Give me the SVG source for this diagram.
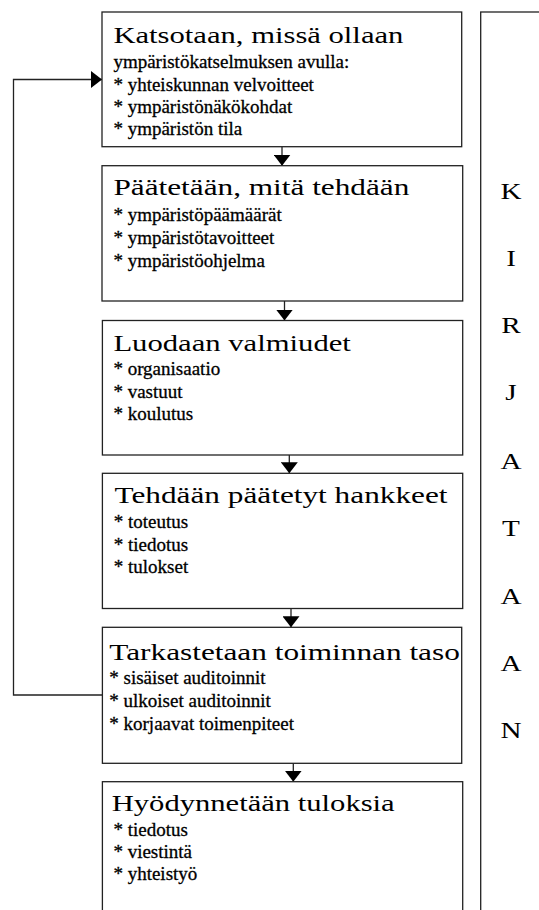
<svg xmlns="http://www.w3.org/2000/svg" width="539" height="910" viewBox="0 0 539 910">
<defs>
<style>
.box{fill:#fff;stroke:#222;stroke-width:1.3}
.ln{fill:none;stroke:#222;stroke-width:1.3}
.t{font-family:"Liberation Serif","Times New Roman",serif;font-size:24px;fill:#000}
.s{font-family:"Liberation Serif","Times New Roman",serif;font-size:19px;fill:#000;stroke:#000;stroke-width:0.3}
.l{font-family:"Liberation Serif","Times New Roman",serif;font-size:23px;fill:#000;text-anchor:middle}
</style>
<marker id="ah" viewBox="0 0 11 17" refX="11" refY="8.5" markerWidth="11" markerHeight="17" markerUnits="userSpaceOnUse" orient="auto">
<path d="M0,0 L11,8.5 L0,17 Z" fill="#000"/>
</marker>
</defs>
<rect width="539" height="910" fill="#fff"/>

<g id="connectors">
<line class="ln" x1="282" y1="146.7" x2="282" y2="165.7" marker-end="url(#ah)"/>
<line class="ln" x1="284.5" y1="301" x2="284.5" y2="320.5" marker-end="url(#ah)"/>
<line class="ln" x1="289.3" y1="455" x2="289.3" y2="473.3" marker-end="url(#ah)"/>
<line class="ln" x1="291" y1="608.5" x2="291" y2="627.3" marker-end="url(#ah)"/>
<line class="ln" x1="293.3" y1="763.3" x2="293.3" y2="781.7" marker-end="url(#ah)"/>
<polyline class="ln" points="102,695 13.5,695 13.5,79.5 102,79.5" marker-end="url(#ah)"/>
</g>

<g id="node1">
<rect class="box" x="102" y="12" width="359.7" height="134.7"/>
<text class="t" x="113.4" y="42.7" textLength="290" lengthAdjust="spacingAndGlyphs">Katsotaan, missä ollaan</text>
<text class="s" x="113.4" y="67.6">ympäristökatselmuksen avulla:</text>
<text class="s" x="113.4" y="90.5">* yhteiskunnan velvoitteet</text>
<text class="s" x="113.4" y="112.7">* ympäristönäkökohdat</text>
<text class="s" x="113.4" y="134.5">* ympäristön tila</text>
</g>

<g id="node2">
<rect class="box" x="102" y="165.7" width="360.7" height="135.3"/>
<text class="t" x="113.4" y="195" textLength="296" lengthAdjust="spacingAndGlyphs">Päätetään, mitä tehdään</text>
<text class="s" x="113.4" y="220.7">* ympäristöpäämäärät</text>
<text class="s" x="113.4" y="243.5">* ympäristötavoitteet</text>
<text class="s" x="113.4" y="266.5">* ympäristöohjelma</text>
</g>

<g id="node3">
<rect class="box" x="102.4" y="320.5" width="360.3" height="134.5"/>
<text class="t" x="113.4" y="350.7" textLength="237.5" lengthAdjust="spacingAndGlyphs">Luodaan valmiudet</text>
<text class="s" x="113.4" y="375">* organisaatio</text>
<text class="s" x="113.4" y="397.5">* vastuut</text>
<text class="s" x="113.4" y="419.5">* koulutus</text>
</g>

<g id="node4">
<rect class="box" x="102.4" y="473.3" width="360.3" height="135.2"/>
<text class="t" x="114.5" y="503.3" textLength="333" lengthAdjust="spacingAndGlyphs">Tehdään päätetyt hankkeet</text>
<text class="s" x="113.8" y="528.3">* toteutus</text>
<text class="s" x="113.8" y="550.5">* tiedotus</text>
<text class="s" x="113.8" y="572.7">* tulokset</text>
</g>

<g id="node5">
<rect class="box" x="102.4" y="627.3" width="359.3" height="136"/>
<text class="t" x="109.3" y="660" textLength="350.5" lengthAdjust="spacingAndGlyphs">Tarkastetaan toiminnan taso</text>
<text class="s" x="109.3" y="684">* sisäiset auditoinnit</text>
<text class="s" x="109.3" y="707">* ulkoiset auditoinnit</text>
<text class="s" x="109.3" y="730">* korjaavat toimenpiteet</text>
</g>

<g id="node6">
<rect class="box" x="102.4" y="781.7" width="360.3" height="160"/>
<text class="t" x="111.7" y="810.7" textLength="283" lengthAdjust="spacingAndGlyphs">Hyödynnetään tuloksia</text>
<text class="s" x="113.4" y="836">* tiedotus</text>
<text class="s" x="113.4" y="858.3">* viestintä</text>
<text class="s" x="113.4" y="880">* yhteistyö</text>
</g>

<g id="side">
<rect class="box" x="480.7" y="12" width="120" height="930"/>
<g transform="translate(511,0) scale(1.27,1)">
<text class="l" x="0" y="199">K</text>
<text class="l" x="0" y="266.5">I</text>
<text class="l" x="0" y="333.5">R</text>
<text class="l" x="0" y="400.5">J</text>
<text class="l" x="0" y="469">A</text>
<text class="l" x="0" y="536">T</text>
<text class="l" x="0" y="604">A</text>
<text class="l" x="0" y="671.5">A</text>
<text class="l" x="0" y="738.5">N</text>
</g>
</g>
</svg>
